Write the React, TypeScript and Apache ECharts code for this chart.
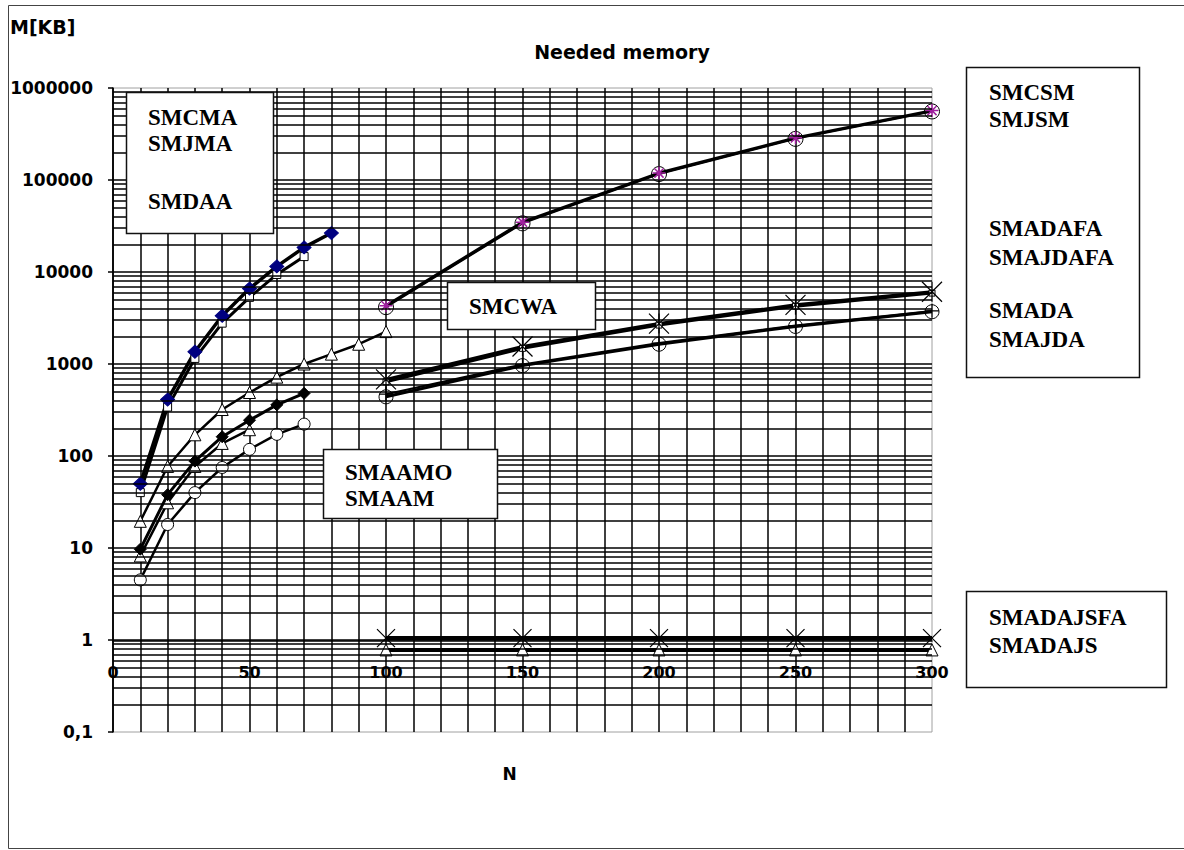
import React, { useEffect, useRef } from 'react';
import * as echarts from 'echarts';

// ---------- data ----------
const nLeft = [10, 20, 30, 40, 50, 60, 70, 80, 90, 100];
const nRight = [100, 150, 200, 250, 300];

const smcma = [50, 410, 1360, 3350, 6600, 11500, 18500, 26500];
const smjma = [40, 340, 1150, 2780, 5300, 9400, 14700];
const smcwa = [19.5, 77, 170, 320, 490, 720, 1000, 1280, 1640, 2250];
const smdaa = [8.2, 31, 77, 137, 193];
const smaamo = [9.7, 38, 88, 162, 245, 360, 480];
const smaam = [4.5, 18, 40, 75, 118, 172, 222];

const smcsm = [4300, 34800, 119000, 287000, 568000];
const smjsm = [4150, 33800, 116000, 280000, 556000];
const smadafa = [680, 1550, 2750, 4400, 6100];
const smajdafa = [640, 1480, 2650, 4250, 5900];
const smada = [440, 960, 1640, 2560, 3700];
const smajda = [470, 990, 1690, 2620, 3780];
const smadajsfa = [1.05, 1.05, 1.05, 1.05, 1.05];
const smadajs = [0.78, 0.78, 0.78, 0.78, 0.78];

const yTickValues = [0.1, 1, 10, 100, 1000, 10000, 100000, 1000000];
const yTickLabels = ['0,1', '1', '10', '100', '1000', '10000', '100000', '1000000'];
const xTickLabels = [0, 50, 100, 150, 200, 250, 300];
const minorDecades = [0.1, 1, 10, 100, 1000, 10000, 100000];
const minorMultipliers = [2, 3, 4, 5, 6, 7, 8, 9];

const legendLeft = ['SMCMA', 'SMJMA', 'SMDAA'];
const legendMid = ['SMCWA'];
const legendLow = ['SMAAMO', 'SMAAM'];
const legendRight = ['SMCSM', 'SMJSM', 'SMADAFA', 'SMAJDAFA', 'SMADA', 'SMAJDA'];
const legendBottom = ['SMADAJSFA', 'SMADAJS'];

// ---------- symbols ----------
const STAR = 'path://M5 0L5 10M0 5L10 5M1.5 1.5L8.5 8.5M1.5 8.5L8.5 1.5';
const XSTAR = 'path://M5 0L5 10M0 0L10 10M0 10L10 0';
const XMARK = 'path://M0 0L10 10M0 10L10 0';
const PLUS = 'path://M5 0L5 10M0 5L10 5';

const pts = (xs: number[], ys: number[]) => ys.map((y, i) => [xs[i], y]);

function ser(name: string, xs: number[], ys: number[], o: any) {
  return {
    name,
    type: 'line',
    data: pts(xs, ys),
    symbol: o.symbol,
    symbolSize: o.size,
    showAllSymbol: true,
    clip: false,
    z: o.z ?? 3,
    lineStyle: { color: '#000', width: o.width },
    itemStyle: {
      color: o.fill,
      borderColor: o.stroke,
      borderWidth: o.bw ?? 1,
    },
    emphasis: { disabled: true },
    silent: true,
  };
}

const SERIF = '"Liberation Serif", "Times New Roman", serif';
const SANS = '"DejaVu Sans", Arial, sans-serif';
const GRID_W = 1.5;

function box(x: number, y: number, w: number, h: number) {
  return {
    type: 'rect',
    shape: { x: x + 0.5, y: y + 0.5, width: w, height: h },
    style: { fill: '#fff', stroke: '#111', lineWidth: 1.5 },
    z: 10,
  };
}
function label(text: string, x: number, y: number) {
  return {
    type: 'text',
    x,
    y,
    z: 11,
    style: { text, font: `bold 23px ${SERIF}`, fill: '#000', verticalAlign: 'middle', align: 'left' },
  };
}

export default function App() {
  const ref = useRef<HTMLDivElement>(null);
  useEffect(() => {
    const chart = echarts.init(ref.current!, null, { renderer: 'svg' });

    const minorLines: any[] = [];
    minorDecades.forEach((d) => minorMultipliers.forEach((m) => minorLines.push({ yAxis: m * d })));

    const option: any = {
      animation: false,
      backgroundColor: '#fff',
      title: {
        text: 'Needed memory',
        left: 617,
        top: 37,
        textAlign: 'center',
        textStyle: { fontFamily: SANS, fontWeight: 'bold', fontSize: 19, color: '#000' },
      },
      grid: {
        left: 113,
        top: 88,
        width: 819,
        height: 644,
        show: true,
        borderColor: '#a0a0a0',
        borderWidth: 1,
        backgroundColor: '#fff',
      },
      xAxis: {
        type: 'value',
        min: 0,
        max: 300,
        interval: 10,
        offset: -91,
        name: 'N',
        nameLocation: 'middle',
        nameGap: 124,
        nameTextStyle: { fontFamily: SANS, fontWeight: 'bold', fontSize: 17, color: '#000', padding: [0, 26, 0, 0] },
        axisLine: { show: true, lineStyle: { color: '#000', width: GRID_W } },
        axisTick: { show: false },
        axisLabel: {
          margin: 23,
          fontFamily: SANS,
          fontWeight: 'bold',
          fontSize: 16,
          color: '#000',
          formatter: (v: number) => (xTickLabels.includes(v) ? String(v) : ''),
        },
        splitLine: { show: true, showMaxLine: false, lineStyle: { color: '#000', width: GRID_W } },
      },
      yAxis: {
        type: 'log',
        logBase: 10,
        min: 0.1,
        max: 1000000,
        axisLine: { show: true, lineStyle: { color: '#000', width: GRID_W } },
        axisTick: { show: true, length: 5, lineStyle: { color: '#000', width: GRID_W } },
        axisLabel: {
          margin: 20,
          fontFamily: SANS,
          fontWeight: 'bold',
          fontSize: 17,
          color: '#000',
          formatter: (v: number) => {
            let best = 0;
            yTickValues.forEach((t, i) => {
              if (Math.abs(Math.log10(t) - Math.log10(v)) < Math.abs(Math.log10(yTickValues[best]) - Math.log10(v))) best = i;
            });
            return yTickLabels[best];
          },
        },
        splitLine: { show: true, showMinLine: false, showMaxLine: false, lineStyle: { color: '#000', width: GRID_W } },
      },
      graphic: [
        {
          type: 'rect',
          shape: { x: 8.5, y: 5.5, width: 1200, height: 843 },
          style: { fill: 'none', stroke: '#444', lineWidth: 1 },
          z: 0,
          silent: true,
        },
        {
          type: 'text',
          x: 10,
          y: 27,
          style: { text: 'M[KB]', font: `bold 19px ${SANS}`, fill: '#000', verticalAlign: 'middle' },
        },
        box(126, 92, 147, 141),
        label(legendLeft[0], 148, 117),
        label(legendLeft[1], 148, 143),
        label(legendLeft[2], 148, 201),
        box(447, 282, 148, 47),
        label(legendMid[0], 469, 306),
        box(323, 449, 174, 69),
        label(legendLow[0], 345, 472),
        label(legendLow[1], 345, 498),
        box(966, 67, 173, 310),
        label(legendRight[0], 989, 92),
        label(legendRight[1], 989, 119),
        label(legendRight[2], 989, 228),
        label(legendRight[3], 989, 257),
        label(legendRight[4], 989, 310),
        label(legendRight[5], 989, 339),
        box(966, 591, 200, 96),
        label(legendBottom[0], 989, 617),
        label(legendBottom[1], 989, 645),
      ],
      series: [
        {
          name: 'minor-grid',
          type: 'line',
          data: [],
          z: 1,
          silent: true,
          markLine: {
            silent: true,
            symbol: ['none', 'none'],
            label: { show: false },
            emphasis: { disabled: true },
            lineStyle: { color: '#000', width: GRID_W, type: 'solid' },
            data: minorLines,
          },
        },
        ser('SMAAM', nLeft, smaam, { symbol: 'circle', size: 12, width: 2.5, fill: '#fff', stroke: '#000' }),
        ser('SMDAA', nLeft, smdaa, { symbol: 'triangle', size: 12, width: 2.5, fill: '#fff', stroke: '#000' }),
        ser('SMAAMO', nLeft, smaamo, { symbol: 'diamond', size: 12, width: 3, fill: '#000', stroke: '#000' }),
        ser('SMCWA', nLeft, smcwa, { symbol: 'triangle', size: 12, width: 2.5, fill: '#fff', stroke: '#000' }),
        ser('SMJMA', nLeft, smjma, { symbol: 'rect', size: 8, width: 3, fill: '#fff', stroke: '#000' }),
        ser('SMCMA', nLeft, smcma, { symbol: 'diamond', size: [14, 13], width: 3.5, fill: '#000080', stroke: '#000080' }),
        ser('SMJSM', nRight, smjsm, { symbol: 'circle', size: 15, width: 2, fill: 'rgba(0,0,0,0)', stroke: '#000' }),
        ser('SMCSM', nRight, smcsm, { symbol: STAR, size: 13, width: 3, fill: 'rgba(0,0,0,0)', stroke: '#a0209f', bw: 1.5 }),
        ser('SMAJDAFA', nRight, smajdafa, { symbol: 'rect', size: 6, width: 3, fill: '#fff', stroke: '#000' }),
        ser('SMADAFA', nRight, smadafa, { symbol: XSTAR, size: 20, width: 3, fill: 'rgba(0,0,0,0)', stroke: '#000', bw: 1.2 }),
        ser('SMADA', nRight, smada, { symbol: 'circle', size: 14, width: 3, fill: 'rgba(0,0,0,0)', stroke: '#000' }),
        ser('SMAJDA', nRight, smajda, { symbol: PLUS, size: 14, width: 2, fill: 'rgba(0,0,0,0)', stroke: '#000', bw: 1.2 }),
        ser('SMADAJS', nRight, smadajs, { symbol: 'triangle', size: 12, width: 4, fill: '#fff', stroke: '#000' }),
        ser('SMADAJSFA', nRight, smadajsfa, { symbol: XMARK, size: 18, width: 4, fill: 'rgba(0,0,0,0)', stroke: '#000', bw: 1.2 }),
      ],
    };
    chart.setOption(option);
    return () => chart.dispose();
  }, []);
  return (
    <div
      ref={ref}
      style={{ position: 'absolute', left: 0, top: 0, width: 1184, height: 850, background: '#fff' }}
    />
  );
}
